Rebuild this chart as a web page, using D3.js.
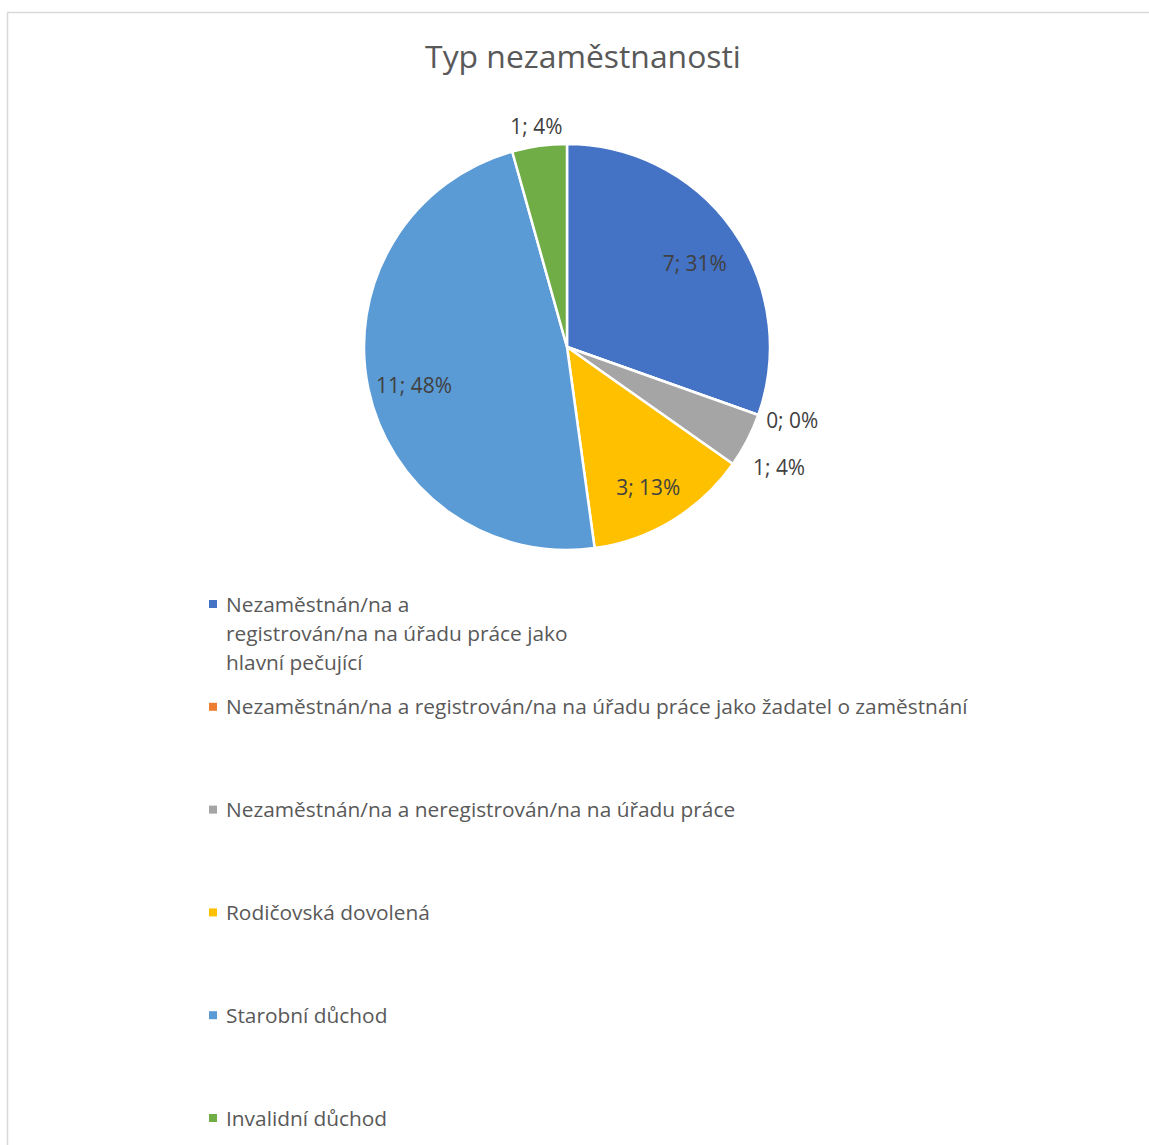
<!DOCTYPE html>
<html>
<head>
<meta charset="utf-8">
<script src="https://cdn.jsdelivr.net/npm/d3@7"></script>
<style>
  html, body { margin: 0; padding: 0; background: #ffffff; }
  svg { display: block; }
</style>
</head>
<body>
<svg id="chart" width="1149" height="1145"></svg>
<script>
// Unemployment type breakdown (counts and shown shares)
const chartTitle = "Typ nezaměstnanosti";
const categories = [
  "Nezaměstnán/na a registrován/na na úřadu práce jako hlavní pečující",
  "Nezaměstnán/na a registrován/na na úřadu práce jako žadatel o zaměstnání",
  "Nezaměstnán/na a neregistrován/na na úřadu práce",
  "Rodičovská dovolená",
  "Starobní důchod",
  "Invalidní důchod"
];
// legend text as laid out, one array of lines per category
const legendLines = [
  ["Nezaměstnán/na a", "registrován/na na úřadu práce jako", "hlavní pečující"],
  ["Nezaměstnán/na a registrován/na na úřadu práce jako žadatel o zaměstnání"],
  ["Nezaměstnán/na a neregistrován/na na úřadu práce"],
  ["Rodičovská dovolená"],
  ["Starobní důchod"],
  ["Invalidní důchod"]
];
const counts = [7, 0, 1, 3, 11, 1];
const sharePct = [31, 0, 4, 13, 48, 4];
const colors = ["#4472C4", "#ED7D31", "#A5A5A5", "#FFC000", "#5B9BD5", "#70AD47"];

const W = 1149, H = 1145;
const FONT = "'Open Sans', 'Noto Sans', 'DejaVu Sans', sans-serif";
const svg = d3.select("#chart");

// chart frame
svg.append("rect")
  .attr("x", 7.5).attr("y", 12.5)
  .attr("width", W + 10).attr("height", H + 10)
  .attr("fill", "#ffffff")
  .attr("stroke", "#d9d9d9").attr("stroke-width", 1.5);

// measure helper for sizing text to a target width
const probe = svg.append("text").attr("font-family", FONT).attr("visibility", "hidden");
function fitSize(str, targetWidth) {
  probe.attr("font-size", 100).text(str);
  const w = probe.node().getComputedTextLength();
  return 100 * targetWidth / w;
}

// title
const titleSize = fitSize(chartTitle, 316);
svg.append("text")
  .attr("x", 583).attr("y", 68)
  .attr("text-anchor", "middle")
  .attr("font-family", FONT)
  .attr("font-size", titleSize)
  .attr("fill", "#595959")
  .text(chartTitle);

// pie
const cx = 567, cy = 347, R = 203;
const pie = d3.pie().value(d => d).sort(null);
const arcs = pie(counts);
const arc = d3.arc().innerRadius(0).outerRadius(R);
const color = d3.scaleOrdinal().domain(d3.range(categories.length)).range(colors);

const g = svg.append("g").attr("transform", `translate(${cx},${cy})`);
g.selectAll("path.slice")
  .data(arcs)
  .join("path")
  .attr("class", "slice")
  .attr("d", arc)
  .attr("fill", (d, i) => color(i))
  .attr("stroke", "#ffffff")
  .attr("stroke-width", 2.5)
  .attr("stroke-linejoin", "round");

// data labels: "count; share%"
const labelSize = fitSize("7; 31%", 64);
const labelText = (d, i) => `${counts[i]}; ${sharePct[i]}%`;
const insideArc = d3.arc().innerRadius(R * 0.77).outerRadius(R * 0.77);

const labels = arcs.map((d, i) => {
  const txt = labelText(d, i);
  probe.attr("font-size", labelSize).text(txt);
  const hw = probe.node().getComputedTextLength() / 2;
  const hh = labelSize * 0.5;
  const span = d.endAngle - d.startAngle;
  const mid = (d.startAngle + d.endAngle) / 2;
  let x, y;
  if (span > 0.6) {
    [x, y] = insideArc.centroid(d);
    y += 7;
  } else {
    const s = Math.sin(mid), c = Math.cos(mid);
    const ext = Math.abs(s) * hw + Math.abs(c) * hh;
    const dist = R + 8 + ext;
    x = s * dist; y = -c * dist + 2;
  }
  return { txt, x, y, hh };
});

// keep the outside labels from crowding each other
for (let iter = 0; iter < 20; iter++) {
  for (let a = 0; a < labels.length; a++) {
    for (let b = a + 1; b < labels.length; b++) {
      const la = labels[a], lb = labels[b];
      if (Math.abs(la.x - lb.x) < 60) {
        const need = la.hh + lb.hh + 26;
        const dy = lb.y - la.y;
        if (Math.abs(dy) < need) {
          const push = (need - Math.abs(dy)) / 2;
          const sgn = dy >= 0 ? 1 : -1;
          la.y -= sgn * push; lb.y += sgn * push;
        }
      }
    }
  }
}

g.selectAll("text.dl")
  .data(labels)
  .join("text")
  .attr("class", "dl")
  .attr("x", d => d.x)
  .attr("y", d => d.y)
  .attr("dy", "0.36em")
  .attr("text-anchor", "middle")
  .attr("font-family", FONT)
  .attr("font-size", labelSize)
  .attr("fill", "#404040")
  .text(d => d.txt);

// legend
const legendSize = fitSize(categories[1], 742);
const legendY = d3.scalePoint().domain(d3.range(categories.length)).range([604, 1118]);
const lineGap = 29;

const leg = svg.append("g");
const items = leg.selectAll("g.item")
  .data(categories)
  .join("g")
  .attr("class", "item")
  .attr("transform", (d, i) => `translate(0,${legendY(i)})`);

items.append("rect")
  .attr("x", 209).attr("y", -4)
  .attr("width", 8).attr("height", 8)
  .attr("fill", (d, i) => color(i));

items.append("text")
  .attr("font-family", FONT)
  .attr("font-size", legendSize)
  .attr("fill", "#595959")
  .each(function (d, i) {
    d3.select(this).selectAll("tspan")
      .data(legendLines[i])
      .join("tspan")
      .attr("x", 226)
      .attr("y", (l, k) => k * lineGap)
      .attr("dy", "0.36em")
      .text(l => l);
  });

probe.remove();
</script>
</body>
</html>
